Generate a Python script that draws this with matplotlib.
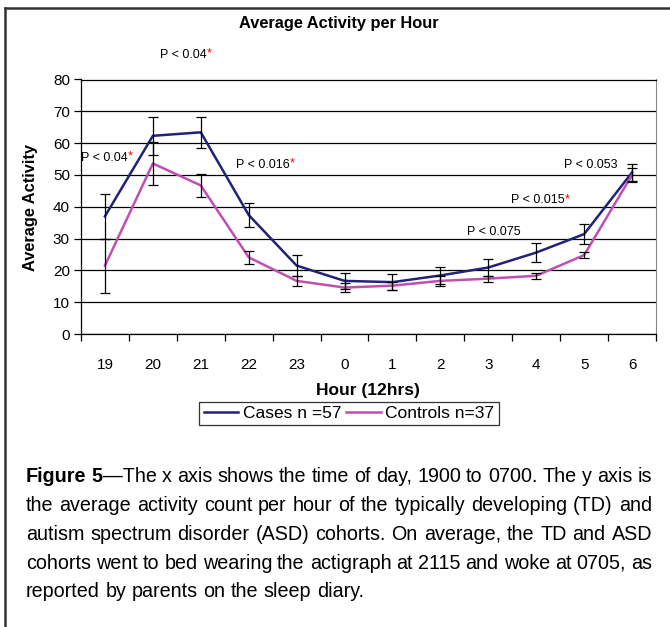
import matplotlib
matplotlib.use("Agg")
import matplotlib.pyplot as plt
from matplotlib.lines import Line2D

plt.rcParams['font.family'] = ['Liberation Sans', 'DejaVu Sans']

# data
hours = ['19', '20', '21', '22', '23', '0', '1', '2', '3', '4', '5', '6']
cases = [37.0, 62.3, 63.4, 37.4, 21.5, 16.7, 16.3, 18.4, 20.9, 25.6, 31.4, 50.8]
cases_err = [7.0, 6.0, 4.9, 3.8, 3.2, 2.4, 2.5, 2.8, 2.7, 3.0, 3.1, 2.7]
controls = [21.5, 53.6, 46.7, 24.1, 16.7, 14.6, 15.2, 16.7, 17.4, 18.3, 24.8, 50.0]
controls_err = [8.5, 6.7, 3.7, 2.1, 1.5, 1.5, 1.3, 1.5, 0.9, 0.9, 0.9, 2.2]

# p-value notes: (text, x index of left edge, y value, starred)
p_notes = [
    ('P < 0.04', 1.15, 87.8, True),
    ('P < 0.04', -0.5, 55.3, True),
    ('P < 0.016', 2.73, 53.1, True),
    ('P < 0.053', 9.58, 53.1, False),
    ('P < 0.015', 8.48, 42.0, True),
    ('P < 0.075', 7.55, 32.1, False),
]

caption = [
    "The x axis shows the time of day, 1900 to 0700. The y axis is",
    "the average activity count per hour of the typically developing (TD) and",
    "autism spectrum disorder (ASD) cohorts. On average, the TD and ASD",
    "cohorts went to bed wearing the actigraph at 2115 and woke at 0705, as",
    "reported by parents on the sleep diary.",
]

W, H = 670, 627
fig = plt.figure(figsize=(W / 100, H / 100), dpi=100)
ax = fig.add_axes([81 / W, 1 - 334 / H, 575 / W, 254.5 / H])

x = list(range(len(hours)))
cases_col = '#22227a'
ctrl_col = '#c050b0'

ax.plot(x, cases, color=cases_col, lw=1.8, label='Cases n =57', zorder=3)
ax.plot(x, controls, color=ctrl_col, lw=1.8, label='Controls n=37', zorder=3)
ax.errorbar(x, cases, yerr=cases_err, fmt='none', ecolor='black', elinewidth=0.9,
            capsize=3.5, capthick=0.9, zorder=4)
ax.errorbar(x, controls, yerr=controls_err, fmt='none', ecolor='black', elinewidth=0.9,
            capsize=3.5, capthick=0.9, zorder=4)

ax.set_xlim(-0.5, 11.5)
ax.set_ylim(0, 80)
ax.set_yticks(range(0, 81, 10))
ax.yaxis.grid(True, color='black', lw=0.9)
ax.set_axisbelow(True)

ax.set_xticks([i - 0.5 for i in range(13)])
ax.set_xticklabels([])
ax.set_xticks(x, minor=True)
ax.set_xticklabels(hours, minor=True)
ax.tick_params(axis='x', which='major', direction='out', length=5, width=0.9)
ax.tick_params(axis='x', which='minor', length=0, pad=17, labelsize=11)
ax.tick_params(axis='y', direction='out', length=5, width=0.9, pad=3, labelsize=11)

for side in ['top', 'bottom', 'left']:
    ax.spines[side].set_linewidth(0.9)
ax.spines['right'].set_color('#888888')

fig.text(368 / W, 1 - 391 / H, 'Hour (12hrs)', fontsize=12.5, fontweight='bold',
         ha='center', va='center')
fig.text(30 / W, 1 - 207 / H, 'Average Activity', fontsize=11.8, fontweight='bold',
         ha='center', va='center', rotation=90)

for txt, px, py, star in p_notes:
    t = ax.text(px, py, txt, fontsize=9, ha='left', va='center', clip_on=False)
    if star:
        ax.annotate('*', xy=(1, 0.62), xycoords=t, fontsize=9, color='red',
                    ha='left', va='center', annotation_clip=False)

fig.text(0.505, 0.963, 'Average Activity per Hour', fontsize=11.8, fontweight='bold',
         ha='center', va='center')

leg = fig.legend(loc='center', bbox_to_anchor=(349 / W, 1 - 413.5 / H), ncol=2,
                 fontsize=12.5, frameon=True, fancybox=False, edgecolor='black',
                 handlelength=2.0, handletextpad=0.25, columnspacing=0.3,
                 borderpad=0.25, borderaxespad=0)
leg.get_frame().set_linewidth(0.9)

# caption, justified word by word like the printed page
renderer = fig.canvas.get_renderer()
cap_left, cap_right = 26, 652
y0, dy = 477, 28.7
cap_size = 14.2
for i, line in enumerate(caption):
    words = [[(w, 'normal')] for w in line.split()]
    if i == 0:
        words = [[('Figure', 'bold')], [('5', 'bold'), ('\u2014' + words[0][0][0], 'normal')]] + words[1:]
    yy = 1 - (y0 + i * dy) / H
    placed = []
    total = 0
    for w in words:
        pieces = []
        for s, wt in w:
            t = fig.text(0, yy, s, fontsize=cap_size, fontweight=wt, ha='left', va='center')
            ew = t.get_window_extent(renderer).width
            pieces.append((t, ew))
            total += ew
        placed.append(pieces)
    if i < len(caption) - 1:
        gap = (cap_right - cap_left - total) / (len(words) - 1)
    else:
        gap = 0.278 * cap_size * 100 / 72
    xpos = cap_left
    for pieces in placed:
        for t, ew in pieces:
            t.set_x(xpos / W)
            xpos += ew
        xpos += gap

# page frame
fig.add_artist(Line2D([5 / W, 1], [1 - 8 / H, 1 - 8 / H], color='#333333', lw=1.8,
                      transform=fig.transFigure))
fig.add_artist(Line2D([5 / W, 5 / W], [0, 1 - 8 / H], color='#333333', lw=1.8,
                      transform=fig.transFigure))

fig.savefig('out.png', dpi=100)
